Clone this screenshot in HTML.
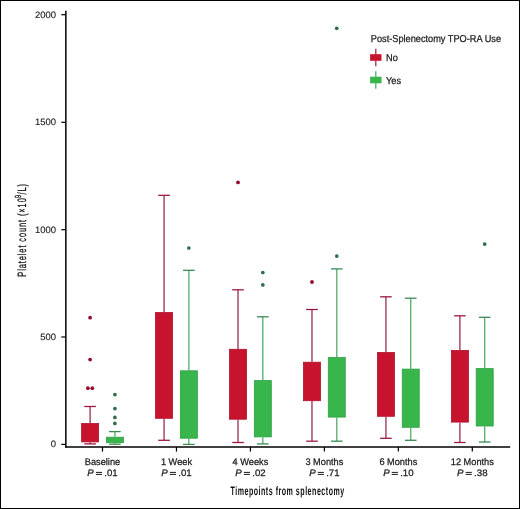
<!DOCTYPE html>
<html><head><meta charset="utf-8"><style>
html,body{margin:0;padding:0;background:#fff;}
body{width:520px;height:509px;overflow:hidden;}
svg{display:block;will-change:transform;}
text{text-rendering:geometricPrecision;font-family:"Liberation Sans",sans-serif;fill:#1a1a1a;stroke:#1a1a1a;stroke-width:0.25px;}
.xt{font-size:12.2px;font-weight:bold;fill:#111;stroke:none;}
.yt{font-size:12px;fill:#111;stroke:#111;stroke-width:0.3px;}
</style></head><body>
<svg width="520" height="509" viewBox="0 0 520 509">
<rect x="0" y="0" width="520" height="509" fill="#fff"/>
<line x1="90.10" y1="406.50" x2="90.10" y2="423.10" stroke="#982E50" stroke-width="1.3"/>
<line x1="90.10" y1="442.30" x2="90.10" y2="443.90" stroke="#982E50" stroke-width="1.3"/>
<line x1="84.30" y1="406.50" x2="95.90" y2="406.50" stroke="#9A1A40" stroke-width="1.3"/>
<line x1="84.30" y1="443.90" x2="95.90" y2="443.90" stroke="#9A1A40" stroke-width="1.3"/>
<rect x="81.60" y="423.50" width="17.00" height="18.40" fill="#C8132F" stroke="#AE0F2C" stroke-width="0.8"/>
<circle cx="90.10" cy="317.70" r="1.9" fill="#960C2E"/>
<circle cx="90.10" cy="359.60" r="1.9" fill="#960C2E"/>
<circle cx="87.90" cy="388.20" r="1.9" fill="#960C2E"/>
<circle cx="92.30" cy="388.20" r="1.9" fill="#960C2E"/>
<line x1="114.90" y1="431.60" x2="114.90" y2="436.80" stroke="#50AE69" stroke-width="1.3"/>
<line x1="114.90" y1="443.10" x2="114.90" y2="444.20" stroke="#50AE69" stroke-width="1.3"/>
<line x1="109.10" y1="431.60" x2="120.70" y2="431.60" stroke="#3A8A55" stroke-width="1.3"/>
<line x1="109.10" y1="444.20" x2="120.70" y2="444.20" stroke="#3A8A55" stroke-width="1.3"/>
<rect x="106.40" y="437.20" width="17.00" height="5.50" fill="#38B64C" stroke="#2FA044" stroke-width="0.8"/>
<circle cx="114.90" cy="394.60" r="1.85" fill="#2E6E48"/>
<circle cx="114.90" cy="408.60" r="1.85" fill="#2E6E48"/>
<circle cx="114.90" cy="417.40" r="1.85" fill="#2E6E48"/>
<circle cx="114.90" cy="423.40" r="1.85" fill="#2E6E48"/>
<line x1="164.06" y1="195.30" x2="164.06" y2="312.10" stroke="#982E50" stroke-width="1.3"/>
<line x1="164.06" y1="418.70" x2="164.06" y2="440.30" stroke="#982E50" stroke-width="1.3"/>
<line x1="158.26" y1="195.30" x2="169.86" y2="195.30" stroke="#9A1A40" stroke-width="1.3"/>
<line x1="158.26" y1="440.30" x2="169.86" y2="440.30" stroke="#9A1A40" stroke-width="1.3"/>
<rect x="155.56" y="312.50" width="17.00" height="105.80" fill="#C8132F" stroke="#AE0F2C" stroke-width="0.8"/>
<line x1="188.86" y1="270.30" x2="188.86" y2="370.40" stroke="#50AE69" stroke-width="1.3"/>
<line x1="188.86" y1="438.60" x2="188.86" y2="444.40" stroke="#50AE69" stroke-width="1.3"/>
<line x1="183.06" y1="270.30" x2="194.66" y2="270.30" stroke="#3A8A55" stroke-width="1.3"/>
<line x1="183.06" y1="444.40" x2="194.66" y2="444.40" stroke="#3A8A55" stroke-width="1.3"/>
<rect x="180.36" y="370.80" width="17.00" height="67.40" fill="#38B64C" stroke="#2FA044" stroke-width="0.8"/>
<circle cx="188.86" cy="248.00" r="1.85" fill="#2E6E48"/>
<line x1="238.02" y1="289.80" x2="238.02" y2="348.90" stroke="#982E50" stroke-width="1.3"/>
<line x1="238.02" y1="419.60" x2="238.02" y2="442.50" stroke="#982E50" stroke-width="1.3"/>
<line x1="232.22" y1="289.80" x2="243.82" y2="289.80" stroke="#9A1A40" stroke-width="1.3"/>
<line x1="232.22" y1="442.50" x2="243.82" y2="442.50" stroke="#9A1A40" stroke-width="1.3"/>
<rect x="229.52" y="349.30" width="17.00" height="69.90" fill="#C8132F" stroke="#AE0F2C" stroke-width="0.8"/>
<circle cx="238.02" cy="182.40" r="1.9" fill="#960C2E"/>
<line x1="262.82" y1="316.80" x2="262.82" y2="380.20" stroke="#50AE69" stroke-width="1.3"/>
<line x1="262.82" y1="437.30" x2="262.82" y2="443.90" stroke="#50AE69" stroke-width="1.3"/>
<line x1="257.02" y1="316.80" x2="268.62" y2="316.80" stroke="#3A8A55" stroke-width="1.3"/>
<line x1="257.02" y1="443.90" x2="268.62" y2="443.90" stroke="#3A8A55" stroke-width="1.3"/>
<rect x="254.32" y="380.60" width="17.00" height="56.30" fill="#38B64C" stroke="#2FA044" stroke-width="0.8"/>
<circle cx="262.82" cy="272.50" r="1.85" fill="#2E6E48"/>
<circle cx="262.82" cy="284.90" r="1.85" fill="#2E6E48"/>
<line x1="311.98" y1="309.50" x2="311.98" y2="361.80" stroke="#982E50" stroke-width="1.3"/>
<line x1="311.98" y1="401.10" x2="311.98" y2="441.20" stroke="#982E50" stroke-width="1.3"/>
<line x1="306.18" y1="309.50" x2="317.78" y2="309.50" stroke="#9A1A40" stroke-width="1.3"/>
<line x1="306.18" y1="441.20" x2="317.78" y2="441.20" stroke="#9A1A40" stroke-width="1.3"/>
<rect x="303.48" y="362.20" width="17.00" height="38.50" fill="#C8132F" stroke="#AE0F2C" stroke-width="0.8"/>
<circle cx="311.98" cy="282.00" r="1.9" fill="#960C2E"/>
<line x1="336.78" y1="268.90" x2="336.78" y2="357.10" stroke="#50AE69" stroke-width="1.3"/>
<line x1="336.78" y1="417.50" x2="336.78" y2="441.20" stroke="#50AE69" stroke-width="1.3"/>
<line x1="330.98" y1="268.90" x2="342.58" y2="268.90" stroke="#3A8A55" stroke-width="1.3"/>
<line x1="330.98" y1="441.20" x2="342.58" y2="441.20" stroke="#3A8A55" stroke-width="1.3"/>
<rect x="328.28" y="357.50" width="17.00" height="59.60" fill="#38B64C" stroke="#2FA044" stroke-width="0.8"/>
<circle cx="336.78" cy="28.30" r="1.85" fill="#2E6E48"/>
<circle cx="336.78" cy="256.10" r="1.85" fill="#2E6E48"/>
<line x1="385.94" y1="296.80" x2="385.94" y2="352.10" stroke="#982E50" stroke-width="1.3"/>
<line x1="385.94" y1="416.70" x2="385.94" y2="438.30" stroke="#982E50" stroke-width="1.3"/>
<line x1="380.14" y1="296.80" x2="391.74" y2="296.80" stroke="#9A1A40" stroke-width="1.3"/>
<line x1="380.14" y1="438.30" x2="391.74" y2="438.30" stroke="#9A1A40" stroke-width="1.3"/>
<rect x="377.44" y="352.50" width="17.00" height="63.80" fill="#C8132F" stroke="#AE0F2C" stroke-width="0.8"/>
<line x1="410.74" y1="298.20" x2="410.74" y2="368.70" stroke="#50AE69" stroke-width="1.3"/>
<line x1="410.74" y1="427.70" x2="410.74" y2="440.30" stroke="#50AE69" stroke-width="1.3"/>
<line x1="404.94" y1="298.20" x2="416.54" y2="298.20" stroke="#3A8A55" stroke-width="1.3"/>
<line x1="404.94" y1="440.30" x2="416.54" y2="440.30" stroke="#3A8A55" stroke-width="1.3"/>
<rect x="402.24" y="369.10" width="17.00" height="58.20" fill="#38B64C" stroke="#2FA044" stroke-width="0.8"/>
<line x1="459.90" y1="315.80" x2="459.90" y2="350.00" stroke="#982E50" stroke-width="1.3"/>
<line x1="459.90" y1="422.50" x2="459.90" y2="442.50" stroke="#982E50" stroke-width="1.3"/>
<line x1="454.10" y1="315.80" x2="465.70" y2="315.80" stroke="#9A1A40" stroke-width="1.3"/>
<line x1="454.10" y1="442.50" x2="465.70" y2="442.50" stroke="#9A1A40" stroke-width="1.3"/>
<rect x="451.40" y="350.40" width="17.00" height="71.70" fill="#C8132F" stroke="#AE0F2C" stroke-width="0.8"/>
<line x1="484.70" y1="317.30" x2="484.70" y2="368.20" stroke="#50AE69" stroke-width="1.3"/>
<line x1="484.70" y1="426.40" x2="484.70" y2="442.00" stroke="#50AE69" stroke-width="1.3"/>
<line x1="478.90" y1="317.30" x2="490.50" y2="317.30" stroke="#3A8A55" stroke-width="1.3"/>
<line x1="478.90" y1="442.00" x2="490.50" y2="442.00" stroke="#3A8A55" stroke-width="1.3"/>
<rect x="476.20" y="368.60" width="17.00" height="57.40" fill="#38B64C" stroke="#2FA044" stroke-width="0.8"/>
<circle cx="484.70" cy="244.10" r="1.85" fill="#2E6E48"/>
<line x1="65.85" y1="10.8" x2="65.85" y2="447.5" stroke="#000" stroke-width="1.5"/>
<line x1="65.1" y1="446.9" x2="510.2" y2="446.9" stroke="#000" stroke-width="1.5"/>
<line x1="61.3" y1="14.7" x2="65.6" y2="14.7" stroke="#000" stroke-width="1.2"/>
<text transform="translate(56.00,17.70) scale(1.03,1)" text-anchor="end" font-size="9.2" style="stroke-width:0.12px">2000</text>
<line x1="61.3" y1="122.3" x2="65.6" y2="122.3" stroke="#000" stroke-width="1.2"/>
<text transform="translate(56.00,125.30) scale(1.03,1)" text-anchor="end" font-size="9.2" style="stroke-width:0.12px">1500</text>
<line x1="61.3" y1="229.7" x2="65.6" y2="229.7" stroke="#000" stroke-width="1.2"/>
<text transform="translate(56.00,232.70) scale(1.03,1)" text-anchor="end" font-size="9.2" style="stroke-width:0.12px">1000</text>
<line x1="61.3" y1="337.0" x2="65.6" y2="337.0" stroke="#000" stroke-width="1.2"/>
<text transform="translate(56.00,340.00) scale(1.03,1)" text-anchor="end" font-size="9.2" style="stroke-width:0.12px">500</text>
<line x1="61.3" y1="444.4" x2="65.6" y2="444.4" stroke="#000" stroke-width="1.2"/>
<text transform="translate(56.00,447.40) scale(1.03,1)" text-anchor="end" font-size="9.2" style="stroke-width:0.12px">0</text>
<line x1="102.50" y1="446.9" x2="102.50" y2="451.6" stroke="#000" stroke-width="1.2"/>
<text transform="translate(102.50,465.30) scale(0.96,1)" text-anchor="middle" font-size="9.6" >Baseline</text>
<text transform="translate(87.30,475.90) scale(1.03,1)" text-anchor="start" font-size="9.4" font-style="italic">P</text>
<rect x="95.90" y="471.9" width="6.1" height="1.0" fill="#1a1a1a"/>
<rect x="95.90" y="473.9" width="6.1" height="1.0" fill="#1a1a1a"/>
<text transform="translate(104.30,475.90) scale(1.03,1)" text-anchor="start" font-size="9.4" >.01</text>
<line x1="176.46" y1="446.9" x2="176.46" y2="451.6" stroke="#000" stroke-width="1.2"/>
<text transform="translate(176.46,465.30) scale(0.96,1)" text-anchor="middle" font-size="9.6" >1 Week</text>
<text transform="translate(161.26,475.90) scale(1.03,1)" text-anchor="start" font-size="9.4" font-style="italic">P</text>
<rect x="169.86" y="471.9" width="6.1" height="1.0" fill="#1a1a1a"/>
<rect x="169.86" y="473.9" width="6.1" height="1.0" fill="#1a1a1a"/>
<text transform="translate(178.26,475.90) scale(1.03,1)" text-anchor="start" font-size="9.4" >.01</text>
<line x1="250.42" y1="446.9" x2="250.42" y2="451.6" stroke="#000" stroke-width="1.2"/>
<text transform="translate(250.42,465.30) scale(0.96,1)" text-anchor="middle" font-size="9.6" >4 Weeks</text>
<text transform="translate(235.22,475.90) scale(1.03,1)" text-anchor="start" font-size="9.4" font-style="italic">P</text>
<rect x="243.82" y="471.9" width="6.1" height="1.0" fill="#1a1a1a"/>
<rect x="243.82" y="473.9" width="6.1" height="1.0" fill="#1a1a1a"/>
<text transform="translate(252.22,475.90) scale(1.03,1)" text-anchor="start" font-size="9.4" >.02</text>
<line x1="324.38" y1="446.9" x2="324.38" y2="451.6" stroke="#000" stroke-width="1.2"/>
<text transform="translate(324.38,465.30) scale(0.96,1)" text-anchor="middle" font-size="9.6" >3 Months</text>
<text transform="translate(309.18,475.90) scale(1.03,1)" text-anchor="start" font-size="9.4" font-style="italic">P</text>
<rect x="317.78" y="471.9" width="6.1" height="1.0" fill="#1a1a1a"/>
<rect x="317.78" y="473.9" width="6.1" height="1.0" fill="#1a1a1a"/>
<text transform="translate(326.18,475.90) scale(1.03,1)" text-anchor="start" font-size="9.4" >.71</text>
<line x1="398.34" y1="446.9" x2="398.34" y2="451.6" stroke="#000" stroke-width="1.2"/>
<text transform="translate(398.34,465.30) scale(0.96,1)" text-anchor="middle" font-size="9.6" >6 Months</text>
<text transform="translate(383.14,475.90) scale(1.03,1)" text-anchor="start" font-size="9.4" font-style="italic">P</text>
<rect x="391.74" y="471.9" width="6.1" height="1.0" fill="#1a1a1a"/>
<rect x="391.74" y="473.9" width="6.1" height="1.0" fill="#1a1a1a"/>
<text transform="translate(400.14,475.90) scale(1.03,1)" text-anchor="start" font-size="9.4" >.10</text>
<line x1="472.30" y1="446.9" x2="472.30" y2="451.6" stroke="#000" stroke-width="1.2"/>
<text transform="translate(472.30,465.30) scale(0.96,1)" text-anchor="middle" font-size="9.6" >12 Months</text>
<text transform="translate(457.10,475.90) scale(1.03,1)" text-anchor="start" font-size="9.4" font-style="italic">P</text>
<rect x="465.70" y="471.9" width="6.1" height="1.0" fill="#1a1a1a"/>
<rect x="465.70" y="473.9" width="6.1" height="1.0" fill="#1a1a1a"/>
<text transform="translate(474.10,475.90) scale(1.03,1)" text-anchor="start" font-size="9.4" >.38</text>
<text transform="translate(287.6,495.4) scale(0.58,1)" text-anchor="middle" class="xt" letter-spacing="0.88">Timepoints from splenectomy</text>
<text transform="translate(25.6,229.9) rotate(-90) scale(0.62,1)" text-anchor="middle" class="yt" letter-spacing="1.45">Platelet count (×1<tspan letter-spacing="0.3">0</tspan><tspan font-size="9" dy="-4.9" letter-spacing="0.6">9</tspan><tspan dy="4.9">/L)</tspan></text>
<text transform="translate(370.80,41.60) scale(0.92,1)" text-anchor="start" font-size="10.0" >Post-Splenectomy TPO-RA Use</text>
<line x1="375.8" y1="48.7" x2="375.8" y2="66.3" stroke="#982E50" stroke-width="1.3"/>
<rect x="370.1" y="54.2" width="11.4" height="6.6" fill="#C8132F"/>
<text transform="translate(386.00,61.40) scale(0.92,1)" text-anchor="start" font-size="10.0" >No</text>
<line x1="375.8" y1="71.2" x2="375.8" y2="88.8" stroke="#50AE69" stroke-width="1.3"/>
<rect x="370.1" y="76.7" width="11.4" height="6.6" fill="#38B64C"/>
<text transform="translate(386.00,83.90) scale(0.92,1)" text-anchor="start" font-size="10.0" >Yes</text>
<rect x="0.5" y="0.5" width="519" height="508" fill="none" stroke="#000" stroke-width="1"/>
</svg>
</body></html>
